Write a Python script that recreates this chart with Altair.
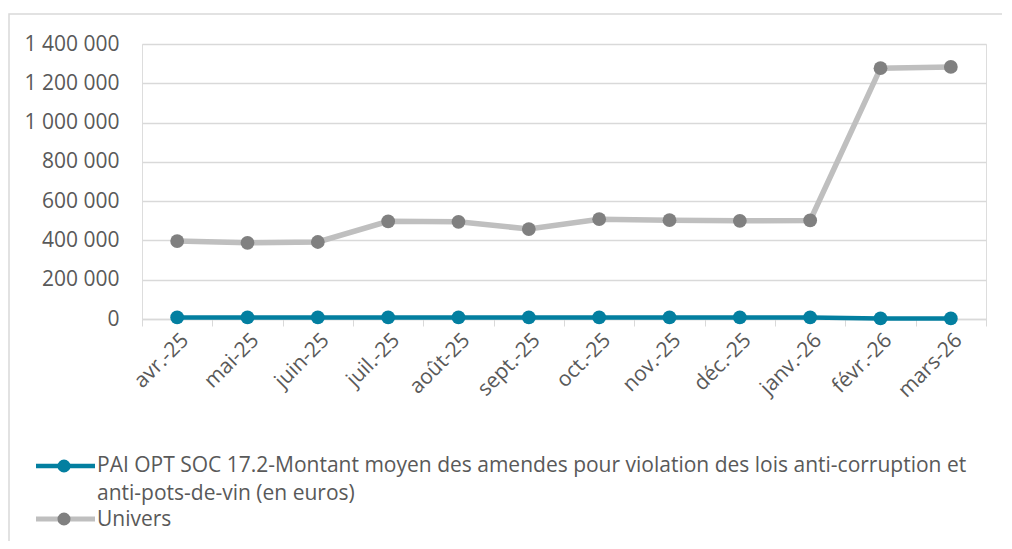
import altair as alt
import pandas as pd

months = ["avr.-25", "mai-25", "juin-25", "juil.-25", "août-25", "sept.-25",
          "oct.-25", "nov.-25", "déc.-25", "janv.-26", "févr.-26", "mars-26"]
pai_values = [8000, 8000, 8000, 8000, 8000, 8000, 8000, 8000, 8000, 8000, 3000, 3000]
univers_values = [397000, 388000, 392000, 497000, 495000, 458000,
                  508000, 503000, 500000, 502000, 1277000, 1283000]
series_names = ["PAI OPT SOC 17.2-Montant moyen des amendes pour violation des lois anti-corruption et anti-pots-de-vin (en euros)",
                "Univers"]
y_ticks = [0, 200000, 400000, 600000, 800000, 1000000, 1200000, 1400000]

FONT = "Open Sans"
FS = 21
TXT = "#595959"
BLUE = "#037fa0"
GRAY_LINE = "#bfbfbf"
GRAY_PT = "#808080"

rows = []
for m, a, b in zip(months, pai_values, univers_values):
    rows.append({"mois": m, "serie": "PAI", "valeur": a})
    rows.append({"mois": m, "serie": "Univers", "valeur": b})
df = pd.DataFrame(rows)

x_enc = alt.X("mois:N", sort=months,
              scale=alt.Scale(type="band", paddingInner=0, paddingOuter=0),
              axis=alt.Axis(title=None, labelAngle=-45, labelFont=FONT, labelFontSize=FS,
                            labelColor=TXT, tickBand="extent", tickColor="#d9d9d9",
                            tickSize=7, domainColor="#d9d9d9", domainWidth=1.5,
                            labelPadding=3, grid=False))
y_enc = alt.Y("valeur:Q", scale=alt.Scale(domain=[0, 1400000], nice=False),
              axis=alt.Axis(title=None, values=y_ticks, labelFont=FONT, labelFontSize=FS,
                            labelColor=TXT, domain=False, ticks=False, labelPadding=23,
                            gridColor="#d9d9d9", gridWidth=1.5,
                            labelExpr="replace(format(datum.value, ',d'), /,/g, ' ')"))

base = alt.Chart(df)
uni_line = base.transform_filter("datum.serie == 'Univers'").mark_line(strokeWidth=5.5, color=GRAY_LINE).encode(x=x_enc, y=y_enc)
pai_line = base.transform_filter("datum.serie == 'PAI'").mark_line(strokeWidth=4.5, color=BLUE).encode(x=x_enc, y=y_enc)
uni_pts = base.transform_filter("datum.serie == 'Univers'").mark_circle(size=190, opacity=1, color=GRAY_PT).encode(x=x_enc, y=y_enc)
pai_pts = base.transform_filter("datum.serie == 'PAI'").mark_circle(size=190, opacity=1, color=BLUE).encode(x=x_enc, y=y_enc)

one = pd.DataFrame({"k": [0]})
lg = alt.Chart(one)
frame = lg.mark_rect(fill="transparent", stroke="#d9d9d9", strokeWidth=1.5).encode(
    x=alt.value(-133), x2=alt.value(880), y=alt.value(-30), y2=alt.value(700))
leg_blue_line = lg.mark_rule(color=BLUE, strokeWidth=4.5).encode(
    x=alt.value(-106), x2=alt.value(-47), y=alt.value(422))
leg_blue_pt = lg.mark_circle(color=BLUE, size=170, opacity=1).encode(
    x=alt.value(-78), y=alt.value(422))
leg_gray_line = lg.mark_rule(color=GRAY_LINE, strokeWidth=5).encode(
    x=alt.value(-106), x2=alt.value(-47), y=alt.value(475))
leg_gray_pt = lg.mark_circle(color=GRAY_PT, size=170, opacity=1).encode(
    x=alt.value(-78), y=alt.value(475))
leg_text1 = lg.mark_text(align="left", baseline="middle", font=FONT, fontSize=FS,
                         color=TXT, lineHeight=28).encode(
    x=alt.value(-45), y=alt.value(422),
    text=alt.value(["PAI OPT SOC 17.2-Montant moyen des amendes pour violation des lois anti-corruption et",
                    "anti-pots-de-vin (en euros)"]))
leg_text2 = lg.mark_text(align="left", baseline="middle", font=FONT, fontSize=FS,
                         color=TXT).encode(x=alt.value(-45), y=alt.value(476), text=alt.value("Univers"))

chart = alt.layer(
    frame, uni_line, pai_line, uni_pts, pai_pts,
    leg_blue_line, leg_blue_pt, leg_gray_line, leg_gray_pt, leg_text1, leg_text2
).properties(
    width=844, height=275,
    autosize=alt.AutoSizeParams(type="none"),
    padding={"left": 134, "top": 36, "right": 16, "bottom": 222},
).configure_view(stroke=None).configure(background="white")

chart.save("out.html", embed_options={"renderer": "svg", "actions": False})
